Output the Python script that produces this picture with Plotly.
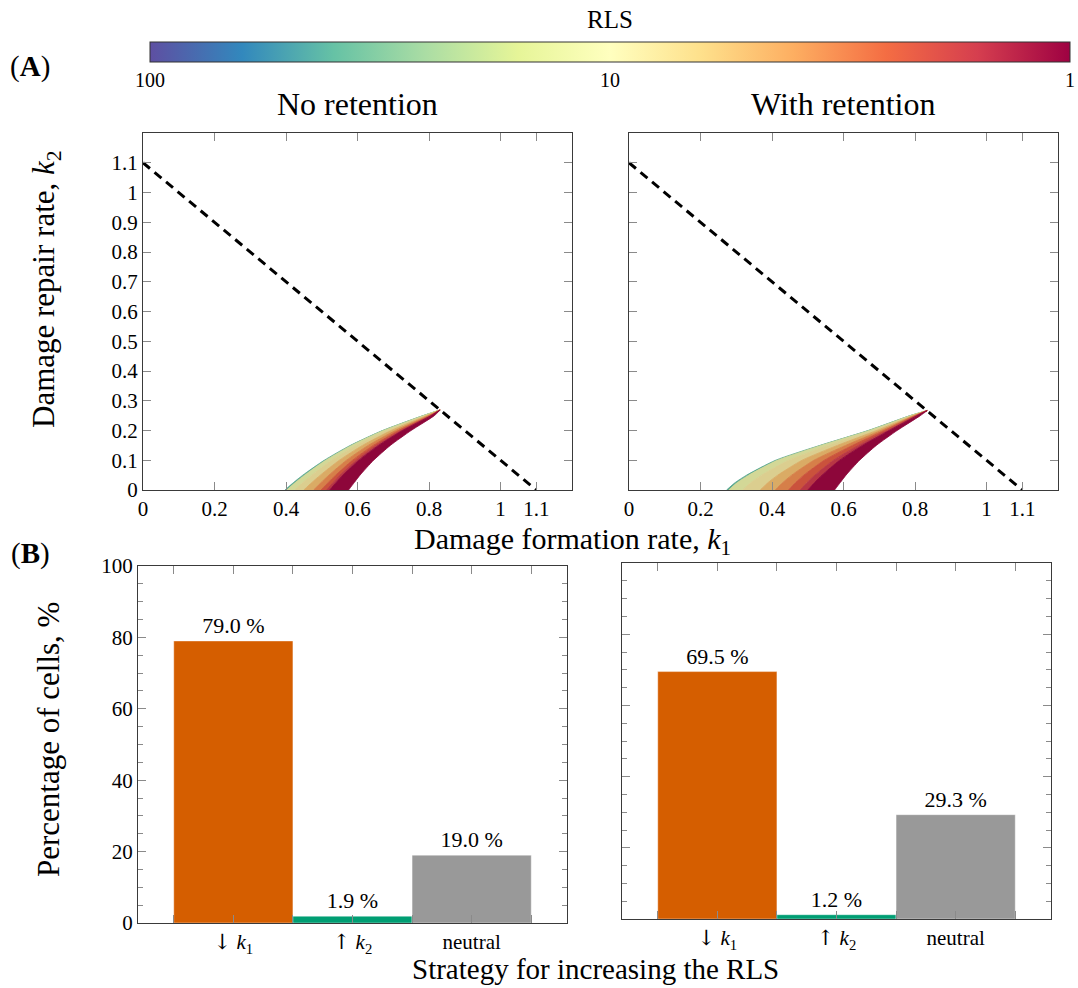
import plotly.graph_objects as go
from plotly.colors import sample_colorscale, unlabel_rgb
import math

W, H = 1078, 988

# ---------------- Panel A data ----------------
# k1 positions of iso-RLS contour lines, read at these k2 levels (outer edge -> inner edge)
k2_levels = [0.0, 0.025, 0.05, 0.10, 0.15, 0.20, 0.25]
tip_left = [0.831, 0.269]
tip_right = [0.834, 0.267]
contours_left = [
    [0.397, 0.421, 0.447, 0.507, 0.580, 0.670, 0.783],
    [0.402, 0.426, 0.452, 0.511, 0.583, 0.672, 0.784],
    [0.424, 0.447, 0.472, 0.528, 0.597, 0.682, 0.788],
    [0.450, 0.472, 0.496, 0.549, 0.614, 0.694, 0.793],
    [0.477, 0.498, 0.520, 0.569, 0.630, 0.706, 0.798],
    [0.498, 0.518, 0.539, 0.586, 0.644, 0.715, 0.802],
    [0.513, 0.532, 0.551, 0.597, 0.653, 0.722, 0.805],
    [0.522, 0.540, 0.559, 0.604, 0.659, 0.726, 0.806],
    [0.575, 0.591, 0.607, 0.645, 0.692, 0.750, 0.815],
]
contours_right = [
    [0.273, 0.297, 0.329, 0.410, 0.534, 0.669, 0.786],
    [0.279, 0.303, 0.335, 0.415, 0.537, 0.671, 0.787],
    [0.318, 0.341, 0.371, 0.446, 0.558, 0.681, 0.790],
    [0.367, 0.389, 0.416, 0.484, 0.583, 0.693, 0.794],
    [0.409, 0.430, 0.455, 0.517, 0.606, 0.705, 0.798],
    [0.446, 0.466, 0.489, 0.546, 0.625, 0.714, 0.801],
    [0.479, 0.498, 0.520, 0.572, 0.642, 0.723, 0.804],
    [0.500, 0.519, 0.540, 0.589, 0.653, 0.728, 0.806],
    [0.575, 0.591, 0.607, 0.645, 0.692, 0.750, 0.815],
]
band_rls = [40, 12, 8, 5, 3.3, 2.2, 1.6, 1.05]
boundary_k1 = [0.0, 1.1]
boundary_k2 = [1.1, 0.0]
xticks_a = [0, 0.2, 0.4, 0.6, 0.8, 1, 1.1]
xticklabels_a = ["0", "0.2", "0.4", "0.6", "0.8", "1", "1.1"]
yticks_a = [0, 0.1, 0.2, 0.3, 0.4, 0.5, 0.6, 0.7, 0.8, 0.9, 1.0, 1.1]
yticklabels_a = ["0", "0.1", "0.2", "0.3", "0.4", "0.5", "0.6", "0.7", "0.8", "0.9", "1", "1.1"]
cbar_vals = [100, 10, 1]

# ---------------- Panel B data ----------------
categories = ['<span style="font-family:DejaVu Serif;color:black">↓</span> <i>k</i><sub>1</sub>',
              '<span style="font-family:DejaVu Serif;color:black">↑</span> <i>k</i><sub>2</sub>',
              "neutral"]
pct_no_ret = [79.0, 1.9, 19.0]
pct_with_ret = [69.5, 1.2, 29.3]
bar_colors = ["#D55E00", "#009E73", "#999999"]

FONT = "Liberation Serif"
AXC = "#3a3a3a"
TKC = "#8a8a8a"
SHADE = 0.86  # surface shading of the RLS map

fig = go.Figure()


def rls_color(r):
    t = 1 - math.log10(r) / 2.0
    c = sample_colorscale("Spectral_r", [t])[0]
    rr, gg, bb = unlabel_rgb(c)
    return f"rgb({rr*SHADE:.0f},{gg*SHADE:.0f},{bb*SHADE:.0f})"


def add_bands(contours, tip, xa, ya):
    for i in range(len(contours) - 1):
        a = contours[i]
        b = contours[i + 1]
        xs = list(a) + [tip[0]] + list(reversed(b))
        ys = list(k2_levels) + [tip[1]] + list(reversed(k2_levels))
        col = rls_color(band_rls[i])
        fig.add_trace(go.Scatter(
            x=xs, y=ys, mode="lines", fill="toself",
            line=dict(width=0.8, color=col, shape="spline", smoothing=0.6),
            fillcolor=col,
            xaxis=xa, yaxis=ya, showlegend=False, hoverinfo="skip"))
    fig.add_trace(go.Scatter(
        x=boundary_k1, y=boundary_k2, mode="lines",
        line=dict(color="black", width=3, dash="9px,6px"),
        xaxis=xa, yaxis=ya, showlegend=False, hoverinfo="skip"))


add_bands(contours_left, tip_left, "x", "y")
add_bands(contours_right, tip_right, "x2", "y2")

# colorbar carrier
cb_z = [-math.log10(v) for v in cbar_vals]
fig.add_trace(go.Scatter(
    x=[0.5, 0.5, 0.5], y=[-1, -1, -1], mode="markers",
    marker=dict(color=cb_z, colorscale="Spectral_r", cmin=-2, cmax=0, size=1,
                showscale=True,
                colorbar=dict(orientation="h", x=610 / W, xanchor="center",
                              y=1 - 42 / H, yanchor="top", len=920 / W, lenmode="fraction",
                              thickness=20, xpad=0, ypad=0,
                              outlinewidth=1, outlinecolor="#333",
                              tickvals=cb_z, ticktext=[str(v) for v in cbar_vals],
                              ticks="", tickfont=dict(family=FONT, size=20, color="black"))),
    xaxis="x", yaxis="y", showlegend=False, hoverinfo="skip"))

# bars
for vals, xa, ya in [(pct_no_ret, "x3", "y3"), (pct_with_ret, "x4", "y4")]:
    fig.add_trace(go.Bar(
        x=[1, 2, 3], y=vals, width=1.0,
        marker=dict(color=bar_colors, line=dict(width=0.8, color="rgba(255,255,255,0.5)")),
        text=[f"{v:.1f} %" for v in vals], textposition="outside",
        textfont=dict(family=FONT, size=22, color="black"), cliponaxis=False,
        xaxis=xa, yaxis=ya, showlegend=False, hoverinfo="skip"))

common = dict(showline=True, linecolor=AXC, linewidth=1.3, mirror="allticks",
              ticks="inside", ticklen=8, tickcolor=TKC, tickwidth=1,
              showgrid=False, zeroline=False,
              tickfont=dict(family=FONT, size=21, color="black"))

ya_top = [1 - 490 / H, 1 - 133 / H]
catfont = dict(family=FONT, size=21, color="black")
fig.update_layout(
    xaxis=dict(domain=[143 / W, 572 / W], range=[0, 1.2], anchor="y",
               tickvals=xticks_a, ticktext=xticklabels_a, **common),
    yaxis=dict(domain=ya_top, range=[0, 1.2], anchor="x",
               tickvals=yticks_a, ticktext=yticklabels_a, **common),
    xaxis2=dict(domain=[629 / W, 1058 / W], range=[0, 1.2], anchor="y2",
                tickvals=xticks_a, ticktext=xticklabels_a, **common),
    yaxis2=dict(domain=ya_top, range=[0, 1.2], anchor="x2",
                tickvals=yticks_a, showticklabels=False, **common),
    xaxis3=dict(domain=[138 / W, 567 / W], range=[0.2, 3.8], anchor="y3",
                tickvals=[1, 2, 3], ticktext=categories,
                minor=dict(dtick=0.5, tick0=0.5, ticks="inside", ticklen=8, tickcolor=TKC),
                **{**common, "tickfont": catfont}),
    yaxis3=dict(domain=[1 - 923 / H, 1 - 566 / H], range=[0, 100], anchor="x3",
                dtick=20, minor=dict(dtick=5, ticks="inside", ticklen=5, tickcolor=TKC),
                **common),
    xaxis4=dict(domain=[622 / W, 1051 / W], range=[0.2, 3.8], anchor="y4",
                tickvals=[1, 2, 3], ticktext=categories,
                minor=dict(dtick=0.5, tick0=0.5, ticks="inside", ticklen=8, tickcolor=TKC),
                **{**common, "tickfont": catfont}),
    yaxis4=dict(domain=[1 - 919 / H, 1 - 563 / H], range=[0, 100], anchor="x4",
                dtick=20, showticklabels=False,
                minor=dict(dtick=5, ticks="inside", ticklen=5, tickcolor=TKC),
                **common),
    width=W, height=H, margin=dict(l=0, r=0, t=0, b=0, autoexpand=False),
    paper_bgcolor="white", plot_bgcolor="white",
    font=dict(family=FONT, color="black"),
)

ann = [
    ("RLS", 610, 19, 0, 25),
    ("(<b>A</b>)", 30, 67, 0, 29),
    ("(<b>B</b>)", 30, 553, 0, 29),
    ("No retention", 357, 104, 0, 32),
    ("With retention", 843, 104, 0, 32),
    ("Damage formation rate, <i>k</i><sub>1</sub>", 572, 541, 0, 30),
    ("Strategy for increasing the RLS", 595, 969, 0, 29),
    ("Damage repair rate, <i>k</i><sub>2</sub>", 46, 289, -90, 31),
    ("Percentage of cells, %", 48, 740, -90, 31),
]
for text, px, py, ang, sz in ann:
    fig.add_annotation(text=text, x=px / W, y=1 - py / H, xref="paper", yref="paper",
                       showarrow=False, textangle=ang, xanchor="center", yanchor="middle",
                       font=dict(family=FONT, size=sz, color="black"))

fig.write_html("out.html", config={"displayModeBar": False},
               post_script="document.body.style.margin='0';")
